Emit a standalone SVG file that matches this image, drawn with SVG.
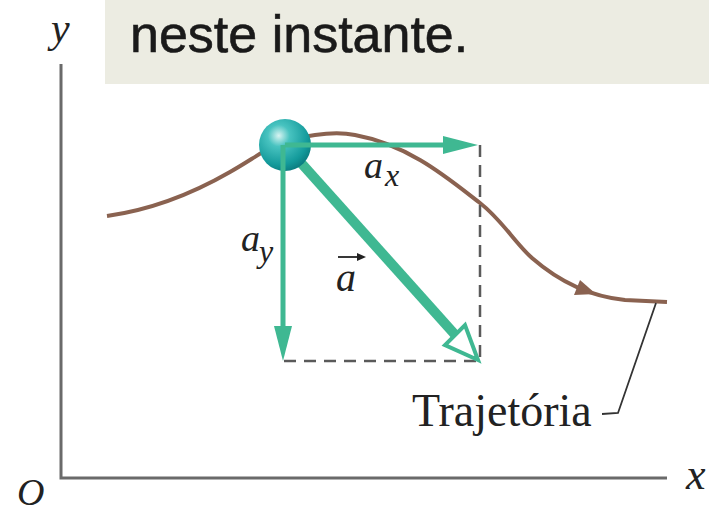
<svg xmlns="http://www.w3.org/2000/svg" width="709" height="512" viewBox="0 0 709 512">
<style>
.it{font-family:"Liberation Serif","Times New Roman",serif;font-style:italic;fill:#222}
.rm{font-family:"Liberation Serif","Times New Roman",serif;fill:#222}
.axis{stroke:#6a6a6a;stroke-width:3;fill:none}
.dash{stroke:#5a5a5a;stroke-width:2.5;stroke-dasharray:12 8;fill:none}
.vec{stroke:#3fb892;fill:none}
</style>
<defs>
<radialGradient id="ball" cx="0.38" cy="0.32" r="0.7">
<stop offset="0" stop-color="#d8f4f2"/>
<stop offset="0.3" stop-color="#48c3c0"/>
<stop offset="0.8" stop-color="#139a9b"/>
<stop offset="1" stop-color="#0c7f82"/>
</radialGradient>
</defs>
<g id="caption">
<rect x="105" y="0" width="604" height="84" fill="#ecece2"/>
<text x="130" y="52" font-family="Liberation Sans, Arial, sans-serif" font-size="52" fill="#1a1a1a" stroke="#1a1a1a" stroke-width="0.6">neste instante.</text>
</g>
<g id="axes">
<polyline class="axis" points="61,64 61,478 667,478"/>
<text class="it" x="51" y="42" font-size="42">y</text>
<text class="it" x="686" y="489" font-size="44">x</text>
<text class="it" x="17" y="505" font-size="38">O</text>
</g>
<g id="trajectory">
<path d="M107,216 C150,210 190,195 230,172 C255,158 270,145 290,140 C310,135 335,131 355,135 C410,145 450,180 480,203 C502,220 515,243 532,258 C555,278 585,296 625,300 L667,302" stroke="#8a6250" stroke-width="4" fill="none"/>
<polygon points="596,294 574,295 580,280" fill="#8a6250"/>
<path d="M602,414 L618,413 L656,303" stroke="#333" stroke-width="1.8" fill="none"/>
<text class="rm" x="412" y="426" font-size="46">Trajetória</text>
</g>
<g id="dashed-box">
<polyline class="dash" points="480,145 480,361 283,361"/>
</g>
<g id="vector-a">
<line class="vec" x1="285" y1="145" x2="458" y2="338" stroke-width="10"/>
<polygon points="478,360 445,345 465,325" fill="#fff" stroke="#3fb892" stroke-width="4" stroke-linejoin="miter"/>
<line x1="338" y1="257" x2="362" y2="257" stroke="#222" stroke-width="1.8"/>
<polygon points="366,257 357,253 357,261" fill="#222"/>
<text class="it" x="336" y="291" font-size="40">a</text>
</g>
<g id="ball-node">
<circle cx="285" cy="145" r="26" fill="url(#ball)"/>
</g>
<g id="vector-ax">
<line class="vec" x1="285" y1="145" x2="448" y2="145" stroke-width="5"/>
<polygon points="478,145 443,136 443,154" fill="#3fb892"/>
<text class="it" x="364" y="178" font-size="38">a</text>
<text class="it" x="385" y="186" font-size="32">x</text>
</g>
<g id="vector-ay">
<line class="vec" x1="283" y1="145" x2="283" y2="330" stroke-width="5"/>
<polygon points="283,361 274,326 292,326" fill="#3fb892"/>
<text class="it" x="241" y="251" font-size="38">a</text>
<text class="it" x="259" y="262" font-size="32">y</text>
</g>
</svg>
